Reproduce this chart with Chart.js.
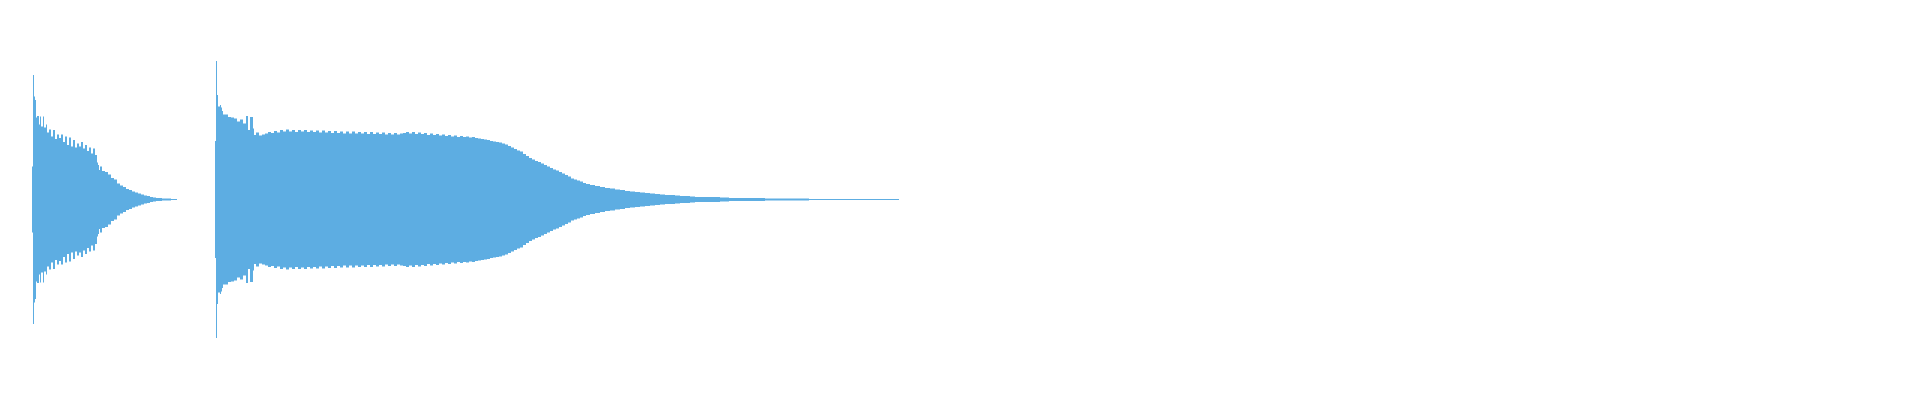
<!DOCTYPE html>
<html>
<head>
<meta charset="utf-8">
<script src="https://cdn.jsdelivr.net/npm/chart.js@4"></script>
<style>
  html, body { margin: 0; padding: 0; background: #fff; }
  #wrap { width: 1920px; height: 400px; }
</style>
</head>
<body>
<div id="wrap"><canvas id="waveChart"></canvas></div>
<script>
// time positions (frames) and peak amplitude (% of full scale)
const clip1Time = [32, 33, 34, 35, 36, 37, 38, 39, 40, 41, 42, 43, 44, 45, 46, 47,
  50, 51, 54, 55, 58, 59, 62, 63, 66, 67, 70, 71, 74, 75, 78, 79, 82, 83, 86, 87, 90, 91, 94, 95,
  96, 97, 98, 99, 100,
  103, 106, 109, 112, 115, 118, 121, 124, 127, 130, 133, 136, 139, 142, 145, 148, 151,
  154, 157, 160, 163, 166, 169, 172, 175];
const clip1Peak = [16.5, 62.25, 51.5, 49.75, 41, 41.75, 41.75, 37.5, 41.5, 36.5, 36.5, 41.5, 36, 36, 37.5, 33.5,
  35, 31.5, 34.75, 30.25, 32.5, 30.75, 32.5, 28.75, 31.5, 27.25, 31, 26.5, 29.75, 26, 28, 26.5, 28.75, 25.5, 27.25, 24.25, 26, 23, 25.5, 22.25,
  22.25, 18.5, 17.25, 14.75, 16.5,
  14.25, 13.75, 12.5, 10.75, 10, 8, 7, 6.25, 5.25, 4.75, 4, 3.5, 3, 2.5, 2, 1.75, 1.25,
  1, 0.75, 0.75, 0.5, 0.5, 0.5, 0.25, 0.25];

const clip2Time = [215, 216, 217, 218, 219, 220, 221, 222, 223,
  226, 229, 232, 235, 238, 241, 244, 247, 248, 251, 252, 253, 254,
  257, 260, 263, 266, 269, 272, 275, 278, 281, 284, 287, 290, 293, 296, 299, 302, 305, 308, 311, 314,
  317, 320, 323, 326, 329, 332, 335, 338, 341, 344, 347, 350, 353, 356, 359, 362, 365, 368, 371, 374,
  377, 380, 383, 386, 389, 392, 395, 398, 401, 404, 407, 410, 413, 416, 419, 422, 425, 428, 431, 434,
  437, 440, 443, 446, 449, 452, 455, 458, 461, 464, 467, 470, 473, 476, 479, 482, 485, 488, 491, 494,
  497, 500, 503, 506, 509, 512, 515, 518, 521, 524, 527, 530, 533, 536, 539, 542, 545, 548, 551, 554,
  557, 560, 563, 566, 569, 572, 575, 578, 581, 584, 587,
  592, 597, 602, 607, 612, 617, 622, 627, 632, 637, 642, 647, 652, 657, 662, 667, 672, 677, 682, 687, 692, 697,
  706, 715, 724, 733, 742, 751, 760, 769, 778, 787, 796, 805,
  812, 827, 842, 857, 872, 887, 894, 897];
const clip2Peak = [29.25, 69.25, 52.25, 46.5, 46.5, 47.25, 46, 44.25, 42.5,
  42.5, 41.25, 41, 40.5, 39, 40, 38, 41.75, 34.75, 41.25, 41.25, 35.5, 32.25,
  33.5, 32, 32.5, 33, 33.75, 33.25, 34.25, 33.5, 34.75, 34, 35, 34, 34.75, 33.75, 34.75, 34, 34.75, 33.75, 34.5, 33.75,
  34.5, 33.5, 34.5, 33.5, 34.25, 33.25, 34.25, 33.25, 34, 33, 34, 33, 34, 33, 33.75, 33, 33.75, 32.75, 33.75, 32.75,
  33.5, 32.75, 33.5, 32.5, 33.25, 32.5, 33.25, 32.5, 33, 33.25, 33.75, 33, 33.75, 32.75, 33.5, 32.75, 33.25, 32.25, 33, 32.25,
  32.75, 32, 32.5, 31.75, 32.25, 31.5, 32, 31.25, 31.75, 31.25, 31.5, 31, 31.25, 30.75, 30.5, 30.25, 30, 29.75, 29.25, 29,
  28.75, 28.5, 28, 27.5, 26.75, 26, 25.25, 24.5, 24, 22.75, 21.75, 20.75, 20, 19.25, 18.75, 18, 17.25, 16.5, 15.75, 15,
  14.5, 13.75, 13, 12.25, 11.5, 10.5, 10, 9.5, 9, 8.25, 7.75,
  7.25, 6.75, 6.25, 5.75, 5.5, 5, 4.75, 4.25, 4, 3.75, 3.5, 3.25, 3, 2.75, 2.5, 2.25, 2.25, 2, 1.75, 1.75, 1.5, 1.25,
  1.25, 1.25, 1, 0.75, 0.75, 0.75, 0.75, 0.5, 0.5, 0.5, 0.5, 0.5,
  0.25, 0.25, 0.25, 0.25, 0.25, 0.25, 0.25, 0.25];

const waveColor = '#5dade2';

// each clip becomes a floating bar series, one bar per column from -peak to +peak
function clipSeries(times, peaks) {
  return times.map((t, i) => ({ x: t, y: [-peaks[i], peaks[i]] }));
}

let waveCtx = document.getElementById('waveChart');

let waveConfig = {
  type: 'bar',
  data: {
    datasets: [{
      data: clipSeries(clip1Time, clip1Peak),
      backgroundColor: waveColor,
      stack: 'wave'
    }, {
      data: clipSeries(clip2Time, clip2Peak),
      backgroundColor: waveColor,
      stack: 'wave'
    }]
  },
  options: {
    responsive: true,
    maintainAspectRatio: false,
    animation: false,
    devicePixelRatio: 1,
    barThickness: 'flex', // bar width follows the spacing of the points
    categoryPercentage: 1,
    barPercentage: 1,
    borderWidth: 0,
    inflateAmount: 0,
    layout: { padding: 0 },
    plugins: {
      legend: { display: false },
      tooltip: { enabled: false }
    },
    scales: {
      x: {
        type: 'linear',
        min: -0.5,
        max: 1919.5,
        offset: false,
        display: false
      },
      y: {
        min: -100.25,
        max: 99.75,
        stacked: false,
        display: false
      }
    }
  }
};

let waveChart = new Chart(waveCtx, waveConfig);
</script>
</body>
</html>
